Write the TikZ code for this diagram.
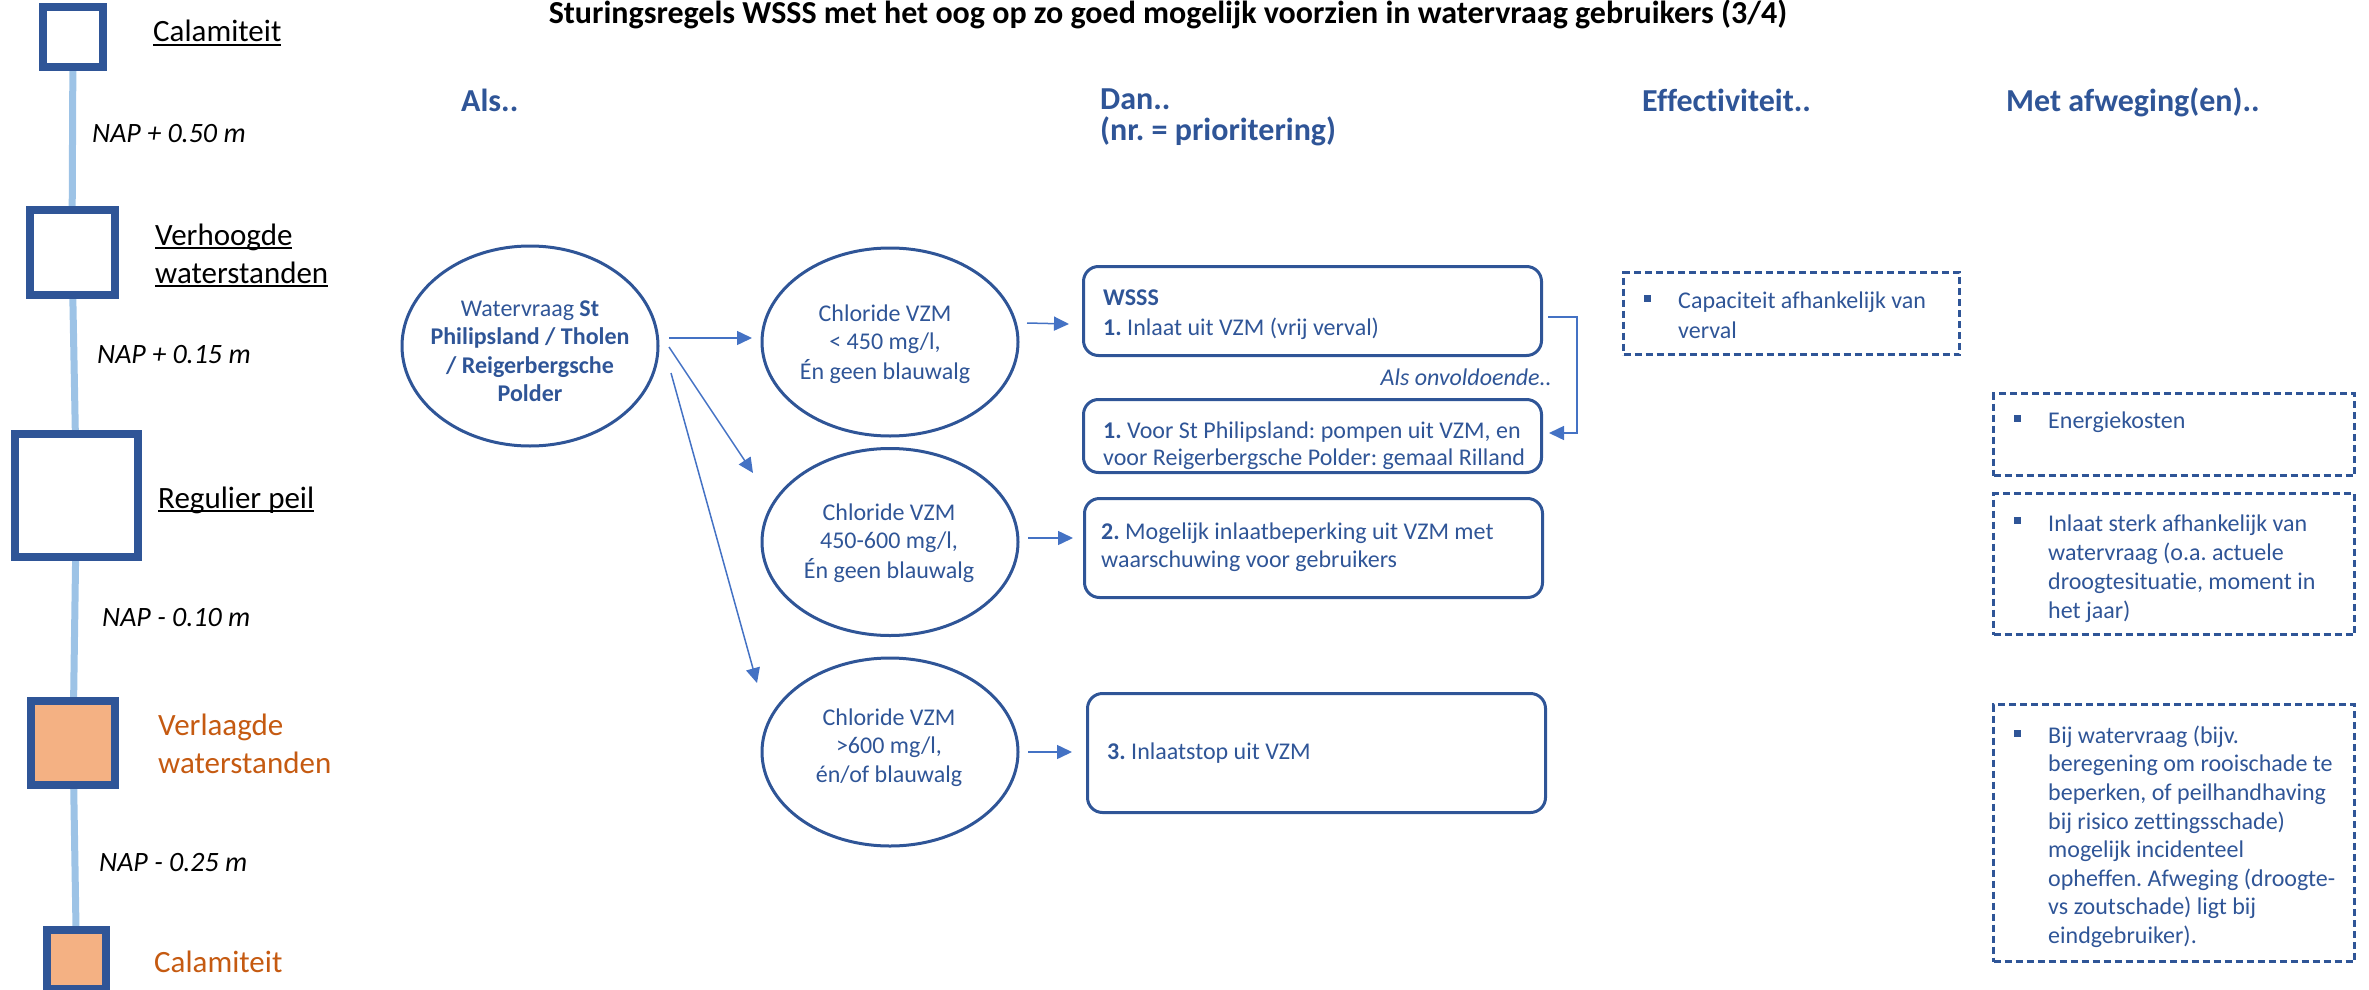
\documentclass[tikz,border=0pt]{standalone}
\usepackage{fontspec}
\setmainfont[Ligatures=NoCommon]{Carlito}
\usetikzlibrary{arrows.meta,calc,shapes.geometric}
\definecolor{dblue}{HTML}{2F5597}
\definecolor{ablue}{HTML}{4472C4}
\definecolor{lline}{HTML}{9DC3E6}
\definecolor{ofill}{HTML}{F4B183}
\definecolor{otext}{HTML}{C55A11}
\newcommand{\myfs}[2]{\fontsize{#1}{#2}\selectfont}
\newcommand{\myul}[1]{\setbox0\hbox{#1}\rlap{\rule[-3.5pt]{\wd0}{2pt}}\box0}
\pgfdeclarelayer{bg}
\pgfsetlayers{bg,main}
\frenchspacing
\begin{document}
\begin{tikzpicture}[x=1pt,y=-1pt,
  lvl/.style={draw=dblue, line width=8pt, inner sep=0pt, fill=white},
  vline/.style={draw=lline, line width=7pt},
  lbl/.style={font=\myfs{31}{38}, inner sep=0pt},
  nap/.style={font=\itshape\myfs{28}{34}, inner sep=0pt, anchor=base west},
  hdr/.style={font=\bfseries\myfs{32}{38}, text=dblue, inner sep=0pt, anchor=base west},
  ell/.style={ellipse, draw=dblue, line width=3pt, inner sep=0pt},
  etext/.style={align=center, inner sep=0pt, text=dblue, font=\myfs{24}{28.5}, anchor=north},
  rbox/.style={draw=dblue, line width=3pt, rounded corners=15pt, inner sep=0pt, minimum width=458pt},
  btext/.style={align=left, inner sep=0pt, text=dblue, anchor=north west},
  dbox/.style={draw=dblue, line width=3pt, dash pattern=on 7pt off 4pt, inner sep=0pt},
  bul/.style={fill=dblue, minimum size=7pt, inner sep=0pt},
  rtext/.style={align=left, inner sep=0pt, text=dblue, anchor=north west},
  arr/.style={draw=ablue, line width=1.5pt, -{Triangle[length=15pt,width=14pt]}}
]
\useasboundingbox (0,0) rectangle (2369,990);

% title and headers
\node[font=\bfseries\myfs{32}{38}, inner sep=0pt, anchor=base] (title) at (1168,24) {Sturingsregels WSSS met het oog op zo goed mogelijk voorzien in watervraag gebruikers (3/4)};
\node[hdr] (hals) at (461,111) {Als..};
\node[hdr] (hdan) at (1100,110) {Dan..};
\node[hdr] (hnr) at (1100,140) {(nr. = prioritering)};
\node[hdr] (heff) at (1642,111) {Effectiviteit..};
\node[hdr] (hmet) at (2006,111) {Met afweging(en)..};

% left level column
\node[lvl, minimum size=60pt] (c1) at (73,37) {};
\node[lvl, minimum size=85pt] (c2) at (72,252.5) {};
\node[lvl, minimum size=123pt] (c3) at (76.5,495.5) {};
\node[lvl, minimum size=84pt, fill=ofill] (c4) at (73,743) {};
\node[lvl, minimum size=59pt, fill=ofill] (c5) at (76.5,959) {};
\begin{pgfonlayer}{bg}
\draw[vline] (c1.center) -- (c2.center) -- (c3.center) -- (c4.center) -- (c5.center);
\end{pgfonlayer}

\node[lbl, anchor=base west] (l1) at (153,42) {\myul{Calamiteit}};
\node[lbl, anchor=north west, align=left] (l2) at (155,218.4) {\strut\myul{Verhoogde}\\\strut\myul{waterstanden}};
\node[lbl, anchor=base west] (l3) at (158,508) {\myul{Regulier peil}};
\node[lbl, anchor=north west, align=left, text=otext] (l4) at (158,708.4) {\strut Verlaagde\\\strut waterstanden};
\node[lbl, anchor=base west, text=otext] (l5) at (154,972) {Calamiteit};

\node[nap] (n1) at (92,142) {NAP + 0.50 m};
\node[nap] (n2) at (97,363) {NAP + 0.15 m};
\node[nap] (n3) at (102,626) {NAP - 0.10 m};
\node[nap] (n4) at (99,871) {NAP - 0.25 m};

% ellipses
\node[ell, minimum width=256pt, minimum height=200pt] (e1) at (530,346) {};
\node[ell, minimum width=256pt, minimum height=188pt] (e2) at (890,342) {};
\node[ell, minimum width=256pt, minimum height=187pt] (e3) at (890,542) {};
\node[ell, minimum width=256pt, minimum height=188pt] (e4) at (890,752) {};

\node[etext] (t1) at (530,296) {\strut Watervraag \textbf{St}\\\strut\textbf{Philipsland / Tholen}\\\strut\textbf{/ Reigerbergsche}\\\strut\textbf{Polder}};
\node[etext] (t2) at (885,301) {\strut Chloride VZM\\\strut {<} 450 mg/l,\\\strut Én geen blauwalg};
\node[etext] (t3) at (889,500) {\strut Chloride VZM\\\strut 450-600 mg/l,\\\strut Én geen blauwalg};
\node[etext] (t4) at (889,705) {\strut Chloride VZM\\\strut {>}600 mg/l,\\\strut én/of blauwalg};

% rounded boxes
\node[rbox, minimum height=89pt] (bA) at (1312.5,311) {};
\node[rbox, minimum height=73pt] (bB) at (1312.5,436) {};
\node[rbox, minimum height=99pt] (bC) at (1313.5,548) {};
\node[rbox, minimum height=119pt] (bD) at (1316.5,753) {};

\node[btext, font=\myfs{24}{30}] (tA) at (1103,284) {\strut\textbf{WSSS}\\\strut\textbf{1.} Inlaat uit VZM (vrij verval)};
\node[btext, font=\myfs{24}{27}] (tB) at (1103,419) {\strut\textbf{1.} Voor St Philipsland: pompen uit VZM, en\\\strut voor Reigerbergsche Polder: gemaal Rilland};
\node[btext, font=\myfs{24}{28}] (tC) at (1101,520) {\strut\textbf{2.} Mogelijk inlaatbeperking uit VZM met\\\strut waarschuwing voor gebruikers};
\node[btext, font=\myfs{24}{28}] (tD) at (1107,740) {\strut\textbf{3.} Inlaatstop uit VZM};

\node[inner sep=0pt, anchor=base east, text=dblue, font=\itshape\myfs{24}{29}] (als) at (1552,385) {Als onvoldoende..};

% arrows
\draw[arr] ($(e1.east)+(9.5,-8)$) -- ($(e2.west)+(-8.5,-4)$);
\draw[arr] ($(e1.east)+(9.5,1)$) -- ($(e3.west)+(-7.5,-69)$);
\draw[arr] ($(e1.east)+(11.5,27)$) -- ($(e4.west)+(-3.5,-69)$);
\draw[arr] ($(e2.east)+(7.5,-19)$) -- ($(bA.west)+(-13,13)$);
\draw[arr] ($(e3.east)+(8.5,-4)$) -- ($(bC.west)+(-10,-10)$);
\draw[arr] ($(e4.east)+(8.5,0)$) -- ($(bD.west)+(-14,-1)$);
\draw[arr] ($(bA.east)+(5,6)$) -- ++(29,0) |- ($(bB.east)+(6,-3)$);

% dashed boxes
\node[dbox, minimum width=336pt, minimum height=82pt] (dE) at (1791.5,313.5) {};
\node[dbox, minimum width=361pt, minimum height=82pt] (dF) at (2174,434.5) {};
\node[dbox, minimum width=361pt, minimum height=141pt] (dG) at (2174,564) {};
\node[dbox, minimum width=361pt, minimum height=257pt] (dH) at (2174,833) {};

\node[bul] (sE) at (1647,298.5) {};
\node[bul] (sF) at (2017,418.5) {};
\node[bul] (sG) at (2017,520.5) {};
\node[bul] (sH) at (2017,733) {};

\node[rtext, font=\myfs{24}{30}] (rE) at (1678,287) {\strut Capaciteit afhankelijk van\\\strut verval};
\node[rtext, font=\myfs{24}{29}] (rF) at (2048,407.7) {\strut Energiekosten};
\node[rtext, font=\myfs{24}{29}] (rG) at (2048,510.7) {\strut Inlaat sterk afhankelijk van\\\strut watervraag (o.a. actuele\\\strut droogtesituatie, moment in\\\strut het jaar)};
\node[rtext, font=\myfs{24}{28.6}] (rH) at (2048,723) {\strut Bij watervraag (bijv.\\\strut beregening om rooischade te\\\strut beperken, of peilhandhaving\\\strut bij risico zettingsschade)\\\strut mogelijk incidenteel\\\strut opheffen. Afweging (droogte-\\\strut vs zoutschade) ligt bij\\\strut eindgebruiker).};
\end{tikzpicture}
\end{document}
